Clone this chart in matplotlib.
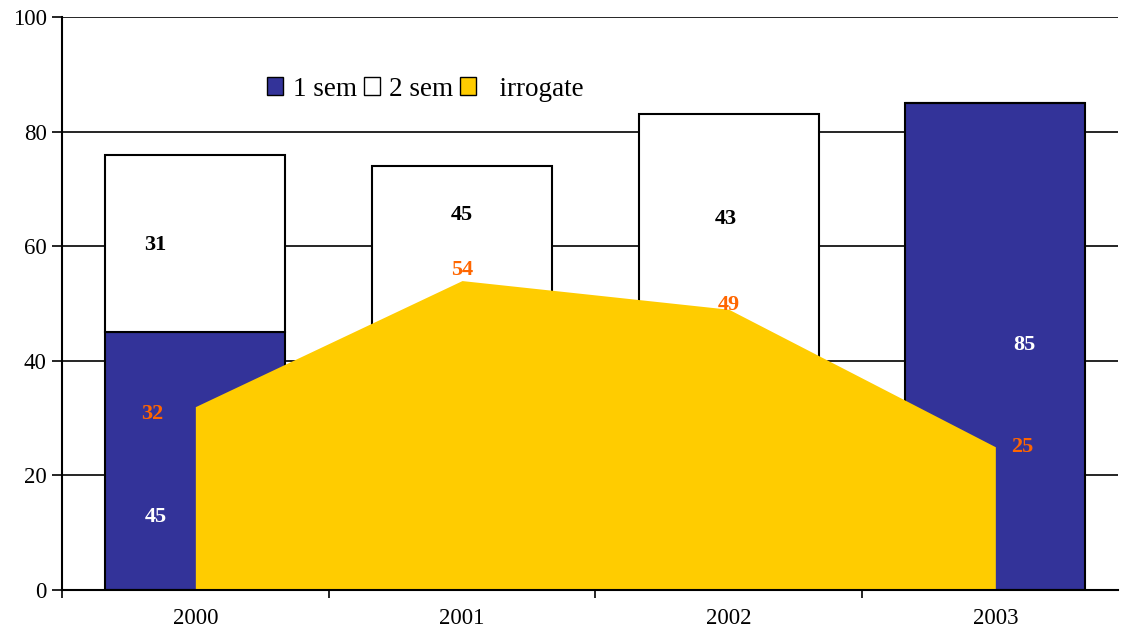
import matplotlib
matplotlib.use("Agg")
import matplotlib.pyplot as plt
from matplotlib.patches import Patch

plt.rcParams['font.family'] = ['Liberation Serif', 'DejaVu Serif']

years = ["2000", "2001", "2002", "2003"]
sem1 = [45, 29, 40, 85]
sem2 = [31, 45, 43, 0]
irrogate = [32, 54, 49, 25]

sem1_labels = ["45", "", "", "85"]
sem2_labels = ["31", "45", "43", ""]
irr_labels = ["32", "54", "49", "25"]

BLUE = "#333399"
YELLOW = "#FFCC00"
ORANGE = "#FF6600"

fig = plt.figure(figsize=(11.22, 6.32), dpi=100)
ax = fig.add_axes([62/1122, 1-590/632, (1118-62)/1122, (590-17)/632])

x = list(range(len(years)))
ax.bar(x, sem1, width=0.675, color=BLUE, edgecolor="black", linewidth=1.5, zorder=2)
ax.bar(x, sem2, width=0.675, bottom=sem1, color="white", edgecolor="black", linewidth=1.5, zorder=2)
ax.fill_between(x, 0, irrogate, color=YELLOW, linewidth=0, zorder=3)

# data labels (positions tuned to match reference)
sem1_pos = [(-0.15, 12.7), None, None, (3.11, 42.8)]
sem2_pos = [(-0.15, 60.2), (1.0, 65.4), (1.99, 64.7), None]
irr_pos = [(-0.16, 30.8), (1.0, 55.8), (2.0, 49.7), (3.1, 25.0)]
kw = dict(ha="center", va="center", fontsize=16, fontweight="bold", zorder=5)
for lab, pos in zip(sem1_labels, sem1_pos):
    if pos and lab:
        ax.text(pos[0], pos[1], lab, color="white", **kw)
for lab, pos in zip(sem2_labels, sem2_pos):
    if pos and lab:
        ax.text(pos[0], pos[1], lab, color="black", **kw)
for lab, pos in zip(irr_labels, irr_pos):
    ax.text(pos[0], pos[1], lab, color=ORANGE, **kw)

ax.set_ylim(0, 100)
ax.set_xlim(-0.5, 3.46)
ax.set_yticks([0, 20, 40, 60, 80, 100])
ax.yaxis.grid(True, color="black", linewidth=1.2)
ax.set_axisbelow(True)
ax.set_xticks(x)
ax.set_xticklabels(years)
ax.tick_params(axis="x", which="major", length=0, pad=13, labelsize=16.5)
ax.set_xticks([-0.5, 0.5, 1.5, 2.5], minor=True)
ax.tick_params(axis="x", which="minor", length=6, width=1.2, direction="out")
ax.tick_params(axis="y", length=7, width=1.2, direction="out", labelsize=16.5, pad=4)
for s in ["top", "right"]:
    ax.spines[s].set_visible(False)
for s in ["left", "bottom"]:
    ax.spines[s].set_linewidth(1.5)
    ax.spines[s].set_zorder(6)

handles = [Patch(facecolor=BLUE, edgecolor="black", label="1 sem"),
           Patch(facecolor="white", edgecolor="black", label="2 sem"),
           Patch(facecolor=YELLOW, edgecolor="black", label="  irrogate")]
leg = ax.legend(handles=handles, ncol=3, frameon=False, fontsize=19.5,
                handlelength=0.6, handleheight=0.6, handletextpad=0.35,
                columnspacing=0.25, loc="center left", borderpad=0, borderaxespad=0,
                bbox_to_anchor=((267-62)/1056, (590-89)/573))
leg.set_zorder(7)

fig.savefig("out.png", dpi=100)
